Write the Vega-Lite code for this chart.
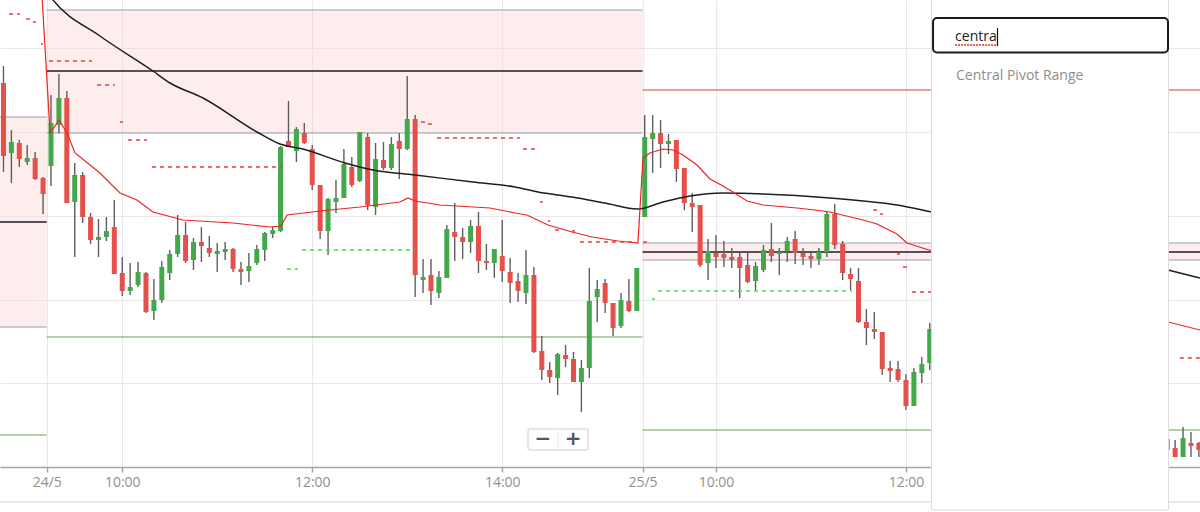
{
  "$schema": "https://vega.github.io/schema/vega-lite/v6.json",
  "width": 1200,
  "height": 467,
  "padding": {"left": 0, "top": 0, "right": 0, "bottom": 45},
  "autosize": {"type": "none"},
  "background": "white",
  "config": {"view": {"stroke": null}, "font": "Open Sans"},
  "datasets": {
    "bands": [
      {"m": -32.2, "m2": -2.7, "p": 883, "p2": 673},
      {"m": -2.7, "m2": 373.6, "p": 990, "p2": 867},
      {"m": 373.6, "m2": 725.7, "p": 757, "p2": 740}
    ],
    "levels": [
      {"m": -32.2, "m2": -2.7, "p": 883, "kind": "bc"},
      {"m": -32.2, "m2": -2.7, "p": 673, "kind": "bc"},
      {"m": -32.2, "m2": -2.7, "p": 778, "kind": "pivot"},
      {"m": -32.2, "m2": -2.7, "p": 565, "kind": "s1"},
      {"m": -2.7, "m2": 373.6, "p": 990, "kind": "bc"},
      {"m": -2.7, "m2": 373.6, "p": 867, "kind": "bc"},
      {"m": -2.7, "m2": 373.6, "p": 929, "kind": "pivot"},
      {"m": -2.7, "m2": 373.6, "p": 663, "kind": "s1"},
      {"m": 373.6, "m2": 725.7, "p": 910, "kind": "r1"},
      {"m": 373.6, "m2": 725.7, "p": 757, "kind": "bc"},
      {"m": 373.6, "m2": 725.7, "p": 740, "kind": "bc"},
      {"m": 373.6, "m2": 725.7, "p": 748, "kind": "pivot"},
      {"m": 373.6, "m2": 725.7, "p": 570, "kind": "s1"}
    ],
    "candles": [
      {"m": -30, "o": 917, "h": 934, "l": 828, "c": 844},
      {"m": -25, "o": 847, "h": 870, "l": 817, "c": 858},
      {"m": -20, "o": 857, "h": 860, "l": 833, "c": 841},
      {"m": -15, "o": 838, "h": 855, "l": 835, "c": 842},
      {"m": -10, "o": 842, "h": 848, "l": 820, "c": 821},
      {"m": -5, "o": 822, "h": 823, "l": 786, "c": 806},
      {"m": 0, "o": 834, "h": 905, "l": 814, "c": 877},
      {"m": 5, "o": 875, "h": 926, "l": 867, "c": 902},
      {"m": 10, "o": 902, "h": 909, "l": 797, "c": 797},
      {"m": 15, "o": 798, "h": 837, "l": 743, "c": 825},
      {"m": 20, "o": 825, "h": 828, "l": 777, "c": 783},
      {"m": 25, "o": 783, "h": 787, "l": 756, "c": 760},
      {"m": 30, "o": 760, "h": 781, "l": 743, "c": 763},
      {"m": 35, "o": 763, "h": 783, "l": 759, "c": 769},
      {"m": 40, "o": 773, "h": 800, "l": 726, "c": 726},
      {"m": 45, "o": 727, "h": 743, "l": 704, "c": 709},
      {"m": 50, "o": 709, "h": 737, "l": 705, "c": 713},
      {"m": 55, "o": 715, "h": 738, "l": 713, "c": 728},
      {"m": 60, "o": 727, "h": 728, "l": 687, "c": 688},
      {"m": 65, "o": 689, "h": 721, "l": 680, "c": 700},
      {"m": 70, "o": 700, "h": 739, "l": 697, "c": 733},
      {"m": 75, "o": 727, "h": 750, "l": 720, "c": 746},
      {"m": 80, "o": 746, "h": 785, "l": 743, "c": 765},
      {"m": 85, "o": 765, "h": 778, "l": 737, "c": 739},
      {"m": 90, "o": 740, "h": 762, "l": 730, "c": 758},
      {"m": 95, "o": 758, "h": 773, "l": 738, "c": 754},
      {"m": 100, "o": 752, "h": 764, "l": 743, "c": 747},
      {"m": 105, "o": 746, "h": 757, "l": 728, "c": 749},
      {"m": 110, "o": 748, "h": 758, "l": 740, "c": 751},
      {"m": 115, "o": 751, "h": 752, "l": 728, "c": 731},
      {"m": 120, "o": 731, "h": 738, "l": 715, "c": 728},
      {"m": 125, "o": 729, "h": 747, "l": 718, "c": 734},
      {"m": 130, "o": 737, "h": 755, "l": 735, "c": 751},
      {"m": 135, "o": 750, "h": 768, "l": 739, "c": 767},
      {"m": 140, "o": 766, "h": 773, "l": 762, "c": 770},
      {"m": 145, "o": 769, "h": 854, "l": 768, "c": 853},
      {"m": 150, "o": 859, "h": 899, "l": 853, "c": 853},
      {"m": 155, "o": 849, "h": 873, "l": 838, "c": 871},
      {"m": 160, "o": 867, "h": 877, "l": 856, "c": 857},
      {"m": 165, "o": 851, "h": 855, "l": 810, "c": 815},
      {"m": 170, "o": 815, "h": 815, "l": 761, "c": 769},
      {"m": 175, "o": 769, "h": 802, "l": 745, "c": 801},
      {"m": 180, "o": 798, "h": 820, "l": 787, "c": 802},
      {"m": 185, "o": 802, "h": 851, "l": 802, "c": 836},
      {"m": 190, "o": 833, "h": 843, "l": 813, "c": 815},
      {"m": 195, "o": 819, "h": 868, "l": 818, "c": 868},
      {"m": 200, "o": 863, "h": 867, "l": 790, "c": 795},
      {"m": 205, "o": 793, "h": 857, "l": 785, "c": 841},
      {"m": 210, "o": 840, "h": 858, "l": 830, "c": 832},
      {"m": 215, "o": 832, "h": 863, "l": 830, "c": 856},
      {"m": 220, "o": 859, "h": 867, "l": 821, "c": 851},
      {"m": 225, "o": 851, "h": 924, "l": 850, "c": 881},
      {"m": 230, "o": 881, "h": 885, "l": 703, "c": 725},
      {"m": 235, "o": 720, "h": 741, "l": 707, "c": 723},
      {"m": 240, "o": 725, "h": 741, "l": 695, "c": 709},
      {"m": 245, "o": 707, "h": 729, "l": 702, "c": 723},
      {"m": 250, "o": 722, "h": 775, "l": 722, "c": 771},
      {"m": 255, "o": 768, "h": 797, "l": 739, "c": 763},
      {"m": 260, "o": 763, "h": 772, "l": 741, "c": 758},
      {"m": 265, "o": 758, "h": 780, "l": 747, "c": 774},
      {"m": 270, "o": 774, "h": 788, "l": 727, "c": 739},
      {"m": 275, "o": 739, "h": 756, "l": 730, "c": 737},
      {"m": 280, "o": 737, "h": 751, "l": 722, "c": 751},
      {"m": 285, "o": 744, "h": 780, "l": 718, "c": 729},
      {"m": 290, "o": 728, "h": 742, "l": 697, "c": 717},
      {"m": 295, "o": 719, "h": 727, "l": 698, "c": 709},
      {"m": 300, "o": 707, "h": 750, "l": 696, "c": 725},
      {"m": 305, "o": 725, "h": 733, "l": 647, "c": 648},
      {"m": 310, "o": 649, "h": 664, "l": 620, "c": 630},
      {"m": 315, "o": 630, "h": 638, "l": 617, "c": 623},
      {"m": 320, "o": 622, "h": 647, "l": 605, "c": 646},
      {"m": 325, "o": 645, "h": 655, "l": 633, "c": 641},
      {"m": 330, "o": 641, "h": 648, "l": 618, "c": 618},
      {"m": 335, "o": 618, "h": 640, "l": 588, "c": 632},
      {"m": 340, "o": 632, "h": 732, "l": 622, "c": 699},
      {"m": 345, "o": 703, "h": 720, "l": 678, "c": 711},
      {"m": 350, "o": 717, "h": 721, "l": 687, "c": 697},
      {"m": 355, "o": 697, "h": 697, "l": 664, "c": 672},
      {"m": 360, "o": 674, "h": 707, "l": 672, "c": 700},
      {"m": 365, "o": 699, "h": 721, "l": 688, "c": 689},
      {"m": 370, "o": 689, "h": 732, "l": 689, "c": 732},
      {"m": 375, "o": 783, "h": 885, "l": 783, "c": 863},
      {"m": 380, "o": 861, "h": 885, "l": 827, "c": 867},
      {"m": 385, "o": 867, "h": 880, "l": 832, "c": 856},
      {"m": 390, "o": 856, "h": 866, "l": 846, "c": 859},
      {"m": 395, "o": 860, "h": 860, "l": 818, "c": 831},
      {"m": 400, "o": 832, "h": 832, "l": 790, "c": 797},
      {"m": 405, "o": 797, "h": 807, "l": 768, "c": 793},
      {"m": 410, "o": 795, "h": 795, "l": 733, "c": 735},
      {"m": 415, "o": 737, "h": 761, "l": 720, "c": 749},
      {"m": 420, "o": 747, "h": 765, "l": 732, "c": 743},
      {"m": 425, "o": 746, "h": 759, "l": 733, "c": 742},
      {"m": 430, "o": 743, "h": 752, "l": 732, "c": 740},
      {"m": 435, "o": 743, "h": 747, "l": 702, "c": 732},
      {"m": 440, "o": 735, "h": 747, "l": 717, "c": 718},
      {"m": 445, "o": 719, "h": 738, "l": 710, "c": 734},
      {"m": 450, "o": 730, "h": 755, "l": 728, "c": 750},
      {"m": 455, "o": 751, "h": 777, "l": 738, "c": 744},
      {"m": 460, "o": 746, "h": 752, "l": 725, "c": 748},
      {"m": 465, "o": 749, "h": 763, "l": 738, "c": 759},
      {"m": 470, "o": 761, "h": 769, "l": 736, "c": 747},
      {"m": 475, "o": 747, "h": 752, "l": 735, "c": 743},
      {"m": 480, "o": 744, "h": 747, "l": 732, "c": 741},
      {"m": 485, "o": 741, "h": 752, "l": 735, "c": 748},
      {"m": 490, "o": 748, "h": 789, "l": 743, "c": 786},
      {"m": 495, "o": 786, "h": 796, "l": 751, "c": 755},
      {"m": 500, "o": 756, "h": 759, "l": 720, "c": 727},
      {"m": 505, "o": 726, "h": 732, "l": 710, "c": 721},
      {"m": 510, "o": 719, "h": 732, "l": 677, "c": 678},
      {"m": 515, "o": 678, "h": 691, "l": 655, "c": 672},
      {"m": 520, "o": 671, "h": 688, "l": 661, "c": 668},
      {"m": 525, "o": 668, "h": 668, "l": 625, "c": 631},
      {"m": 530, "o": 632, "h": 639, "l": 618, "c": 629},
      {"m": 535, "o": 631, "h": 639, "l": 618, "c": 620},
      {"m": 540, "o": 620, "h": 626, "l": 590, "c": 594},
      {"m": 545, "o": 594, "h": 632, "l": 594, "c": 628},
      {"m": 550, "o": 627, "h": 643, "l": 617, "c": 636},
      {"m": 555, "o": 637, "h": 677, "l": 630, "c": 671},
      {"m": 705, "o": 561, "h": 563, "l": 548, "c": 550},
      {"m": 710, "o": 552, "h": 560, "l": 543, "c": 543},
      {"m": 715, "o": 543, "h": 573, "l": 543, "c": 562},
      {"m": 720, "o": 557, "h": 568, "l": 543, "c": 554},
      {"m": 725, "o": 557, "h": 558, "l": 543, "c": 550}
    ],
    "longAvg": [
      {"m": -2.5, "p": 1008}, {"m": 1.3, "p": 1000}, {"m": 30.9, "p": 964}, {"m": 64.4, "p": 929},
      {"m": 75.2, "p": 917}, {"m": 96.0, "p": 902}, {"m": 130.1, "p": 868}, {"m": 144.6, "p": 856},
      {"m": 159.1, "p": 851}, {"m": 185.7, "p": 837}, {"m": 203.4, "p": 830}, {"m": 229.9, "p": 825},
      {"m": 266.5, "p": 818}, {"m": 293.1, "p": 813}, {"m": 307.6, "p": 808}, {"m": 329.1, "p": 803},
      {"m": 349.9, "p": 797}, {"m": 370.7, "p": 791}, {"m": 386.5, "p": 798}, {"m": 403.6, "p": 804},
      {"m": 424.4, "p": 807}, {"m": 449.7, "p": 806}, {"m": 492.0, "p": 802}, {"m": 512.9, "p": 799},
      {"m": 534.3, "p": 795}, {"m": 556.4, "p": 788}, {"m": 705.5, "p": 730}, {"m": 725.7, "p": 722}
    ],
    "vwap": [
      {"m": -5.7, "p": 1005}, {"m": -0.6, "p": 867}, {"m": 5.1, "p": 880}, {"m": 10.1, "p": 867},
      {"m": 15.2, "p": 847}, {"m": 30.9, "p": 827}, {"m": 43.6, "p": 807}, {"m": 54.3, "p": 800},
      {"m": 64.4, "p": 788}, {"m": 83.4, "p": 780}, {"m": 114.9, "p": 777}, {"m": 138.3, "p": 773},
      {"m": 145.3, "p": 774}, {"m": 149.1, "p": 785}, {"m": 169.9, "p": 789}, {"m": 195.2, "p": 793},
      {"m": 220.4, "p": 798}, {"m": 225.5, "p": 802}, {"m": 229.9, "p": 799}, {"m": 245.7, "p": 795},
      {"m": 277.3, "p": 792}, {"m": 293.1, "p": 787}, {"m": 300.6, "p": 785}, {"m": 313.9, "p": 775},
      {"m": 329.1, "p": 768}, {"m": 341.7, "p": 763}, {"m": 358.1, "p": 759}, {"m": 370.7, "p": 757},
      {"m": 373.9, "p": 842}, {"m": 378.3, "p": 847}, {"m": 386.5, "p": 851}, {"m": 392.8, "p": 850},
      {"m": 399.2, "p": 845}, {"m": 408.0, "p": 835}, {"m": 416.2, "p": 821}, {"m": 424.4, "p": 814},
      {"m": 430.7, "p": 808}, {"m": 439.6, "p": 799}, {"m": 449.7, "p": 795}, {"m": 471.2, "p": 792},
      {"m": 487.6, "p": 789}, {"m": 492.0, "p": 788}, {"m": 512.9, "p": 780}, {"m": 521.7, "p": 776},
      {"m": 534.3, "p": 766}, {"m": 540.6, "p": 757}, {"m": 556.4, "p": 749}, {"m": 705.5, "p": 678},
      {"m": 725.7, "p": 670}
    ],
    "stops": [
      {"m": -26.5, "m2": -19.6, "p": 986, "side": "up"},
      {"m": -15.8, "m2": -13.3, "p": 981, "side": "up"},
      {"m": -11.4, "m2": -9.5, "p": 978, "side": "up"},
      {"m": -6.3, "m2": -5.1, "p": 956, "side": "up"},
      {"m": -1.3, "m2": 25.9, "p": 939, "side": "up"},
      {"m": 29.1, "m2": 40.4, "p": 915, "side": "up"},
      {"m": 43.6, "m2": 45.5, "p": 878, "side": "up"},
      {"m": 48.6, "m2": 60.6, "p": 860, "side": "up"},
      {"m": 63.8, "m2": 145.9, "p": 833, "side": "up"},
      {"m": 233.7, "m2": 236.2, "p": 878, "side": "up"},
      {"m": 238.1, "m2": 241.3, "p": 876, "side": "up"},
      {"m": 243.8, "m2": 296.2, "p": 862, "side": "up"},
      {"m": 298.1, "m2": 305.7, "p": 851, "side": "up"},
      {"m": 308.8, "m2": 310.7, "p": 798, "side": "up"},
      {"m": 313.9, "m2": 315.2, "p": 779, "side": "up"},
      {"m": 318.3, "m2": 321.5, "p": 770, "side": "up"},
      {"m": 329.1, "m2": 331.0, "p": 769, "side": "up"},
      {"m": 334.1, "m2": 367.6, "p": 758, "side": "up"},
      {"m": 373.9, "m2": 376.4, "p": 758, "side": "up"},
      {"m": 519.2, "m2": 521.7, "p": 790, "side": "up"},
      {"m": 523.6, "m2": 525.5, "p": 786, "side": "up"},
      {"m": 534.3, "m2": 536.2, "p": 746, "side": "up"},
      {"m": 538.1, "m2": 540.6, "p": 733, "side": "up"},
      {"m": 543.8, "m2": 556.4, "p": 708, "side": "up"},
      {"m": 713.0, "m2": 725.7, "p": 642, "side": "up"},
      {"m": 149.0, "m2": 156.0, "p": 731, "side": "down"},
      {"m": 158.5, "m2": 229.9, "p": 750, "side": "down"},
      {"m": 379.6, "m2": 381.5, "p": 701, "side": "down"},
      {"m": 383.4, "m2": 505.9, "p": 709, "side": "down"}
    ],
    "zoomBox": [{"m": 301.3, "m2": 339.2, "p": 571, "p2": 550}],
    "zoomDivider": [{"m": 320.2, "p": 569, "p2": 552}],
    "zoomText": [{"m": 310.7, "p": 561, "label": "−"}, {"m": 329.7, "p": 561, "label": "+"}],
    "frameLine": [{"m": -32.2, "m2": 725.7, "p": 498}],
    "popup": [{"m": 556.1, "m2": 705.8, "p": 1005, "p2": 490}],
    "searchBox": [{"m": 557.1, "m2": 705.5, "p": 982, "p2": 947.5}],
    "caret": [{"m": 597.8, "p": 972, "p2": 954}],
    "squiggle": [{"m": 571.0, "m2": 597.0, "p": 955}],
    "searchText": [{"m": 571.0, "p": 963, "label": "centra"}],
    "resultText": [{"m": 571.6, "p": 924, "label": "Central Pivot Range"}]
  },
  "layer": [
    {
      "data": {"name": "bands"},
      "mark": {"type": "rect", "fill": "#f9d4d2", "opacity": 0.4},
      "encoding": {
        "x": {"field": "m", "type": "quantitative", "title": null, "scale": {"domain": [-32.2, 725.7], "nice": false, "zero": false, "padding": 0},
          "axis": {"values": [-2.7, 45, 165, 285, 373.6, 420, 540],
            "labelExpr": "datum.value < 0 ? '24/5' : datum.value < 100 ? '10:00' : datum.value < 200 ? '12:00' : datum.value < 300 ? '14:00' : datum.value < 400 ? '25/5' : datum.value < 500 ? '10:00' : '12:00'",
            "title": null, "grid": true, "gridColor": "#e8e8e8", "gridWidth": 1,
            "domainColor": "#a6a6a6", "domainWidth": 1.5, "tickColor": "#a6a6a6", "tickSize": 5, "tickWidth": 1.5,
            "labelColor": "#8f8f8f", "labelFont": "Open Sans", "labelFontSize": 14, "labelPadding": 3,
            "labelFlush": false, "labelOverlap": false, "zindex": 0}},
        "x2": {"field": "m2"},
        "y": {"field": "p", "type": "quantitative", "title": null, "scale": {"domain": [533, 1000], "nice": false, "zero": false, "padding": 0},
          "axis": {"values": [617, 700, 784, 868, 952], "title": null, "grid": true, "gridColor": "#e8e8e8",
            "labels": false, "ticks": false, "domain": false, "zindex": 0}},
        "y2": {"field": "p2"}
      }
    },
    {
      "data": {"name": "levels"},
      "transform": [{"filter": "datum.kind == 'bc'"}],
      "mark": {"type": "rule", "color": "#9c9cb2", "strokeWidth": 1},
      "encoding": {
        "x": {"field": "m", "type": "quantitative", "title": null},
        "x2": {"field": "m2"},
        "y": {"field": "p", "type": "quantitative", "title": null}
      }
    },
    {
      "data": {"name": "levels"},
      "transform": [{"filter": "datum.kind == 'pivot'"}],
      "mark": {"type": "rule", "color": "#1d1d2b", "strokeWidth": 1.5},
      "encoding": {
        "x": {"field": "m", "type": "quantitative", "title": null},
        "x2": {"field": "m2"},
        "y": {"field": "p", "type": "quantitative", "title": null}
      }
    },
    {
      "data": {"name": "levels"},
      "transform": [{"filter": "datum.kind == 'r1'"}],
      "mark": {"type": "rule", "color": "#d8432f", "strokeWidth": 1},
      "encoding": {
        "x": {"field": "m", "type": "quantitative", "title": null},
        "x2": {"field": "m2"},
        "y": {"field": "p", "type": "quantitative", "title": null}
      }
    },
    {
      "data": {"name": "levels"},
      "transform": [{"filter": "datum.kind == 's1'"}],
      "mark": {"type": "rule", "color": "#6c9c55", "strokeWidth": 1},
      "encoding": {
        "x": {"field": "m", "type": "quantitative", "title": null},
        "x2": {"field": "m2"},
        "y": {"field": "p", "type": "quantitative", "title": null}
      }
    },
    {
      "data": {"name": "candles"},
      "mark": {"type": "rule", "color": "#5e5e5e", "strokeWidth": 1.4},
      "encoding": {
        "x": {"field": "m", "type": "quantitative", "title": null},
        "y": {"field": "l", "type": "quantitative", "title": null},
        "y2": {"field": "h"}
      }
    },
    {
      "data": {"name": "candles"},
      "mark": {"type": "bar", "width": 5},
      "encoding": {
        "x": {"field": "m", "type": "quantitative", "title": null},
        "y": {"field": "o", "type": "quantitative", "title": null},
        "y2": {"field": "c"},
        "color": {"condition": {"test": "datum.c >= datum.o", "value": "#43a84a"}, "value": "#e5504b"}
      }
    },
    {
      "data": {"name": "longAvg"},
      "mark": {"type": "line", "color": "#1e1e1e", "strokeWidth": 1.5, "interpolate": "monotone"},
      "encoding": {
        "x": {"field": "m", "type": "quantitative", "title": null},
        "y": {"field": "p", "type": "quantitative", "title": null}
      }
    },
    {
      "data": {"name": "vwap"},
      "mark": {"type": "line", "color": "#ee2222", "strokeWidth": 1.2},
      "encoding": {
        "x": {"field": "m", "type": "quantitative", "title": null},
        "y": {"field": "p", "type": "quantitative", "title": null}
      }
    },
    {
      "data": {"name": "stops"},
      "transform": [{"filter": "datum.side == 'up'"}],
      "mark": {"type": "rule", "color": "#f03a3a", "strokeWidth": 1.5, "strokeDash": [4, 4]},
      "encoding": {
        "x": {"field": "m", "type": "quantitative", "title": null},
        "x2": {"field": "m2"},
        "y": {"field": "p", "type": "quantitative", "title": null}
      }
    },
    {
      "data": {"name": "stops"},
      "transform": [{"filter": "datum.side == 'down'"}],
      "mark": {"type": "rule", "color": "#3ee23e", "strokeWidth": 1.5, "strokeDash": [4, 4]},
      "encoding": {
        "x": {"field": "m", "type": "quantitative", "title": null},
        "x2": {"field": "m2"},
        "y": {"field": "p", "type": "quantitative", "title": null}
      }
    },
    {
      "data": {"name": "zoomBox"},
      "mark": {"type": "rect", "fill": "#ffffff", "stroke": "#dedede", "strokeWidth": 1.5, "cornerRadius": 2},
      "encoding": {
        "x": {"field": "m", "type": "quantitative", "title": null},
        "x2": {"field": "m2"},
        "y": {"field": "p", "type": "quantitative", "title": null},
        "y2": {"field": "p2"}
      }
    },
    {
      "data": {"name": "zoomDivider"},
      "mark": {"type": "rule", "color": "#e6e6e6", "strokeWidth": 1},
      "encoding": {
        "x": {"field": "m", "type": "quantitative", "title": null},
        "y": {"field": "p", "type": "quantitative", "title": null},
        "y2": {"field": "p2"}
      }
    },
    {
      "data": {"name": "zoomText"},
      "mark": {"type": "text", "color": "#555555", "fontSize": 20, "fontWeight": "bold", "align": "center", "baseline": "middle", "font": "DejaVu Sans"},
      "encoding": {
        "x": {"field": "m", "type": "quantitative", "title": null},
        "y": {"field": "p", "type": "quantitative", "title": null},
        "text": {"field": "label"}
      }
    },
    {
      "data": {"name": "frameLine"},
      "mark": {"type": "rule", "color": "#e8e8e8", "strokeWidth": 2},
      "encoding": {
        "x": {"field": "m", "type": "quantitative", "title": null},
        "x2": {"field": "m2"},
        "y": {"field": "p", "type": "quantitative", "title": null}
      }
    },
    {
      "data": {"name": "popup"},
      "mark": {"type": "rect", "fill": "#ffffff", "stroke": "#dcdcdc", "strokeWidth": 1},
      "encoding": {
        "x": {"field": "m", "type": "quantitative", "title": null},
        "x2": {"field": "m2"},
        "y": {"field": "p", "type": "quantitative", "title": null},
        "y2": {"field": "p2"}
      }
    },
    {
      "data": {"name": "searchBox"},
      "mark": {"type": "rect", "fill": "#ffffff", "stroke": "#1a1a1a", "strokeWidth": 2, "cornerRadius": 4},
      "encoding": {
        "x": {"field": "m", "type": "quantitative", "title": null},
        "x2": {"field": "m2"},
        "y": {"field": "p", "type": "quantitative", "title": null},
        "y2": {"field": "p2"}
      }
    },
    {
      "data": {"name": "squiggle"},
      "mark": {"type": "rule", "color": "#e03030", "strokeWidth": 1.5, "strokeDash": [2, 1]},
      "encoding": {
        "x": {"field": "m", "type": "quantitative", "title": null},
        "x2": {"field": "m2"},
        "y": {"field": "p", "type": "quantitative", "title": null}
      }
    },
    {
      "data": {"name": "caret"},
      "mark": {"type": "rule", "color": "#111111", "strokeWidth": 1.2},
      "encoding": {
        "x": {"field": "m", "type": "quantitative", "title": null},
        "y": {"field": "p", "type": "quantitative", "title": null},
        "y2": {"field": "p2"}
      }
    },
    {
      "data": {"name": "searchText"},
      "mark": {"type": "text", "color": "#222222", "fontSize": 14, "align": "left", "baseline": "middle", "font": "Open Sans"},
      "encoding": {
        "x": {"field": "m", "type": "quantitative", "title": null},
        "y": {"field": "p", "type": "quantitative", "title": null},
        "text": {"field": "label"}
      }
    },
    {
      "data": {"name": "resultText"},
      "mark": {"type": "text", "color": "#8e8e8e", "fontSize": 14, "align": "left", "baseline": "middle", "font": "Open Sans"},
      "encoding": {
        "x": {"field": "m", "type": "quantitative", "title": null},
        "y": {"field": "p", "type": "quantitative", "title": null},
        "text": {"field": "label"}
      }
    }
  ]
}
